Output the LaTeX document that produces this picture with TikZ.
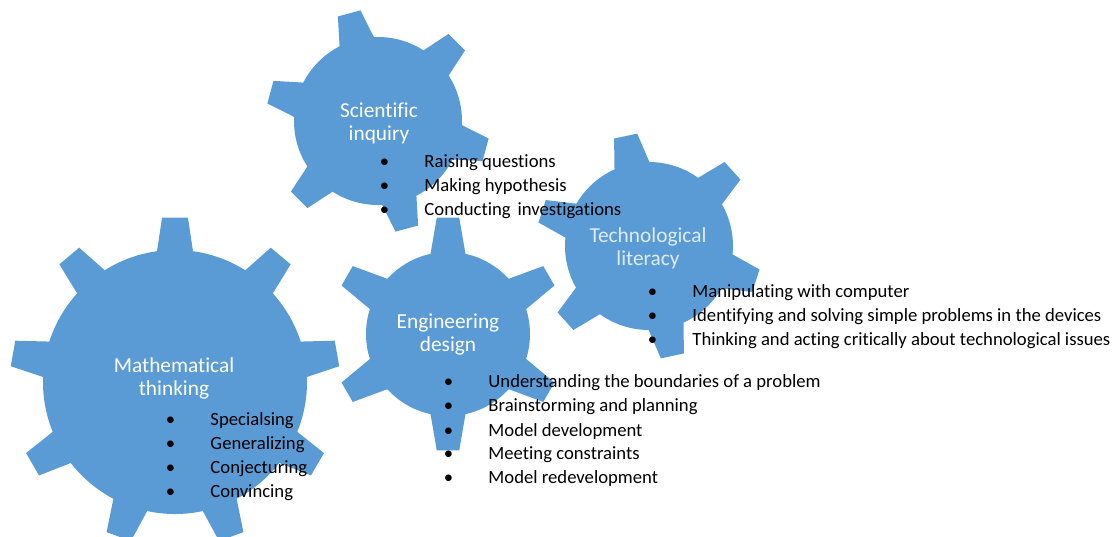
\documentclass[tikz,border=0pt]{standalone}
\usepackage{fontspec}
\setmainfont{Carlito}[Ligatures={NoCommon,NoDiscretionary}]

\definecolor{gearblue}{RGB}{91,155,213}
\definecolor{palelabel}{RGB}{222,235,247}

% bullet hung 40px left of the item text
\newcommand{\itemdot}{\llap{\makebox[60pt]{\textbullet}}}

\tikzset{every picture/.style={line width=0.75pt}}
\tikzset{
  gear title/.style={anchor=base, inner sep=0.75pt, text=white, font=\fontsize{16}{19}\selectfont},
  gear item/.style={anchor=base west, inner sep=0.75pt, font=\fontsize{14}{17}\selectfont},
}

\begin{document}
\begin{tikzpicture}[x=0.75pt,y=0.75pt,yscale=-1,xscale=1]
\useasboundingbox (0,0) rectangle (1112,536);

%Shape: Gear, 9 teeth
\begin{scope}[shift={(175,382)},yscale=-1]
\fill[gearblue] (0,0) circle (132);
\foreach \a in {90,130,...,410}
  \fill[gearblue] (\a-8.5:127) -- (\a-4.5:165) -- (\a+4.5:165) -- (\a+8.5:127) -- cycle;
\end{scope}
%Shape: Gear, 6 teeth
\begin{scope}[shift={(378,121)},yscale=-1]
\fill[gearblue] (0,0) circle (84);
\foreach \a in {105,165,...,405}
  \fill[gearblue] (\a-13.5:80) -- (\a-6:112) -- (\a+6:112) -- (\a+13.5:80) -- cycle;
\end{scope}
%Shape: Gear, 6 teeth
\begin{scope}[shift={(448,334)},yscale=-1]
\fill[gearblue] (0,0) circle (82);
\foreach \a in {90,150,...,390}
  \fill[gearblue] (\a-13.5:78) -- (\a-5.5:117) -- (\a+5.5:117) -- (\a+13.5:78) -- cycle;
\end{scope}
%Shape: Gear, 6 teeth
\begin{scope}[shift={(649,246)},yscale=-1]
\fill[gearblue] (0,0) circle (84);
\foreach \a in {102,162,...,402}
  \fill[gearblue] (\a-13.5:80) -- (\a-6:113) -- (\a+6:113) -- (\a+13.5:80) -- cycle;
\end{scope}

% Text Node
\node[gear title] (math1) at (174,372) {Mathematical};
\node[gear title] (math2) at (174,395) {thinking};
% Text Node
\node[gear title] (sci1) at (379,117) {Scientific};
\node[gear title] (sci2) at (379,140) {inquiry};
% Text Node
\node[gear title] (eng1) at (448,328) {Engineering};
\node[gear title] (eng2) at (448,351) {design};
% Text Node
\node[gear title, text=palelabel] (tech1) at (648,242) {Technological};
\node[gear title, text=palelabel] (tech2) at (648,265) {literacy};

% Text Node
\node[gear item] (mt1) at (209,425) {\itemdot Specialsing};
\node[gear item] (mt2) at (209,449) {\itemdot Generalizing};
\node[gear item] (mt3) at (209,473) {\itemdot Conjecturing};
\node[gear item] (mt4) at (209,497) {\itemdot Convincing};
% Text Node
\node[gear item] (si1) at (423,167) {\itemdot Raising questions};
\node[gear item] (si2) at (423,191) {\itemdot Making hypothesis};
\node[gear item] (si3) at (423,215) {\itemdot Conducting\hspace{2pt} investigations};
% Text Node
\node[gear item] (ed1) at (487,387) {\itemdot Understanding the boundaries of a problem};
\node[gear item] (ed2) at (487,411) {\itemdot Brainstorming and planning};
\node[gear item] (ed3) at (487,436) {\itemdot Model development};
\node[gear item] (ed4) at (487,459) {\itemdot Meeting constraints};
\node[gear item] (ed5) at (487,483) {\itemdot Model redevelopment};
% Text Node
\node[gear item] (tl1) at (691,297) {\itemdot Manipulating with computer};
\node[gear item] (tl2) at (691,321) {\itemdot Identifying and solving simple problems in the devices};
\node[gear item] (tl3) at (691,345) {\itemdot Thinking and acting critically about technological issues};

\end{tikzpicture}
\end{document}
